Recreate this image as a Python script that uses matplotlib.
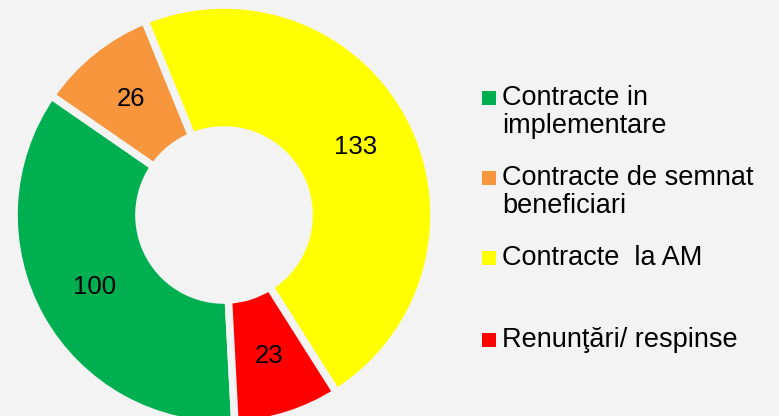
import numpy as np
import matplotlib
matplotlib.use("Agg")
import matplotlib.pyplot as plt

categories = ["Contracte in\nimplementare", "Contracte de semnat\nbeneficiari",
              "Contracte  la AM", "Renunţări/ respinse"]
values = [100, 26, 133, 23]
colors = ["#00B050", "#F7963C", "#FFFF00", "#FF0000"]

BG = "#F3F3F3"
plt.rcParams['font.family'] = ['Liberation Sans', 'DejaVu Sans']

W, H = 779, 416
fig = plt.figure(figsize=(W / 100, H / 100), dpi=100, facecolor=BG)

# pixel-based layout: 1 data unit = 100 px
cx, cy = 224, 215
ax = fig.add_axes([0, 0, 1, 1])
ax.set_facecolor(BG)

R = 2.10
inner = 0.85
wedges, _ = ax.pie(values, colors=colors, radius=R, startangle=-87, counterclock=False,
                   wedgeprops=dict(width=R - inner, edgecolor=BG, linewidth=5.5))

ax.set_xlim(-cx / 100, (W - cx) / 100)
ax.set_ylim(-(H - cy) / 100, cy / 100)
ax.set_aspect('equal')
ax.axis('off')

for w, v in zip(wedges, values):
    mid = np.deg2rad((w.theta1 + w.theta2) / 2)
    r = 0.72 * 2.06
    ax.text(r * np.cos(mid), r * np.sin(mid), str(v), ha='center', va='center',
            fontsize=18.5, color='black')

# legend (manual, PowerPoint-like spacing)
leg_y = [98, 178, 258, 340]   # pixel y of first text line centre
for cat, col, y in zip(categories, colors, leg_y):
    fig.patches.append(plt.Rectangle((482 / W, 1 - (y + 7) / H), 14 / W, 14 / H,
                                     transform=fig.transFigure, facecolor=col,
                                     edgecolor='none'))
    fig.text(502 / W, 1 - (y - 13) / H, cat, ha='left', va='top', fontsize=19.5,
             color='black', linespacing=1.08)

fig.savefig("out.png", dpi=100, facecolor=BG)
